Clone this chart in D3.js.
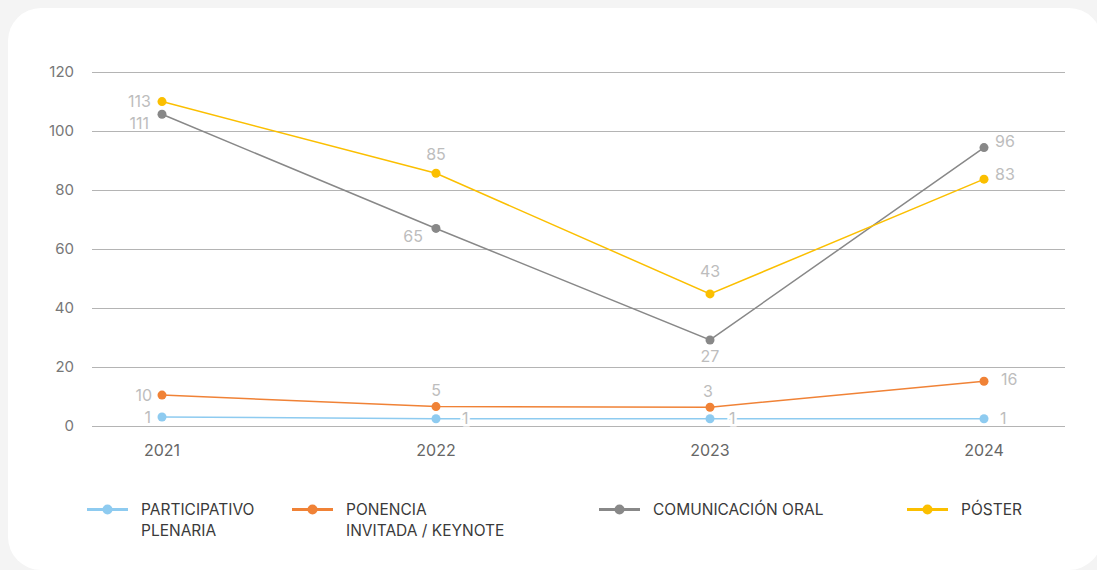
<!DOCTYPE html>
<html>
<head>
<meta charset="utf-8">
<script src="https://cdn.jsdelivr.net/npm/d3@7"></script>
<style>
  body { margin: 0; background: #f4f4f4; font-family: Inter, "Open Sans", sans-serif; }
  svg { display: block; }
</style>
</head>
<body>
<div id="chart"></div>
<script>
// years on the x axis
var years = ["2021", "2022", "2023", "2024"];
var yTicks = [0, 20, 40, 60, 80, 100, 120];

var participativo = [2.9, 2.3, 2.3, 2.3];
var participativoLbl = ["1", "1", "1", "1"];
var ponencia = [10.3, 6.4, 6.2, 15];
var ponenciaLbl = ["10", "5", "3", "16"];
var comunicacion = [105.5, 66.8, 29, 94.2];
var comunicacionLbl = ["111", "65", "27", "96"];
var poster = [109.8, 85.5, 44.6, 83.5];
var posterLbl = ["113", "85", "43", "83"];

var seriesNames = [["PARTICIPATIVO", "PLENARIA"], ["PONENCIA", "INVITADA / KEYNOTE"], ["COMUNICACIÓN ORAL"], ["PÓSTER"]];
var colors = ["#8ecbf0", "#f08236", "#888888", "#fbbf00"];

var W = 1097, H = 570;
var svg = d3.select("#chart").append("svg").attr("width", W).attr("height", H);

// white card
svg.append("rect").attr("x", 8).attr("y", 8).attr("width", 1094).attr("height", 562)
  .attr("rx", 33).attr("fill", "#fff");

var y = d3.scaleLinear().domain([0, 120]).range([425.5, 71.5]);
var x = d3.scalePoint().domain(years).range([162, 984]);

var grid = svg.append("g");
grid.selectAll("line").data(yTicks).enter().append("line")
  .attr("x1", 92).attr("x2", 1065)
  .attr("y1", function (d) { return Math.round(y(d)) + 0.5; })
  .attr("y2", function (d) { return Math.round(y(d)) + 0.5; })
  .attr("stroke", "#b4b4b4").attr("stroke-width", 1);
grid.selectAll("text").data(yTicks).enter().append("text")
  .attr("x", 74).attr("y", function (d) { return y(d); })
  .attr("dy", "0.36em").attr("text-anchor", "end")
  .attr("font-size", 15).attr("fill", "#777").text(function (d) { return d; });

svg.append("g").selectAll("text").data(years).enter().append("text")
  .attr("x", function (d) { return x(d); }).attr("y", 450).attr("dy", "0.36em")
  .attr("text-anchor", "middle").attr("font-size", 16).attr("fill", "#666")
  .text(function (d) { return d; });

// label placement per point: [dx, dy, anchor]
var place = [
  [[-11, 0, "end"], [26, 0, "start"], [19, 0, "start"], [16, 0, "start"]],
  [[-10, 0, "end"], [0, -16, "middle"], [-2, -16, "middle"], [17, -2, "start"]],
  [[-13, 9, "end"], [-13, 8, "end"], [0, 16, "middle"], [11, -6, "start"]],
  [[-11, 0, "end"], [0, -19, "middle"], [0, -23, "middle"], [11, -5, "start"]]
];

var all = [participativo, ponencia, comunicacion, poster];
var labels = [participativoLbl, ponenciaLbl, comunicacionLbl, posterLbl];

var line = d3.line().x(function (d, i) { return x(years[i]); }).y(function (d) { return y(d); });

all.forEach(function (vals, s) {
  var g = svg.append("g");
  g.append("path").attr("d", line(vals)).attr("fill", "none")
    .attr("stroke", colors[s]).attr("stroke-width", 1.5);
  g.selectAll("circle").data(vals).enter().append("circle")
    .attr("cx", function (d, i) { return x(years[i]); })
    .attr("cy", function (d) { return y(d); })
    .attr("r", 4.5).attr("fill", colors[s]);
  g.selectAll("text").data(vals).enter().append("text")
    .attr("x", function (d, i) { return x(years[i]) + place[s][i][0]; })
    .attr("y", function (d, i) { return y(d) + place[s][i][1]; })
    .attr("dy", "0.36em").attr("text-anchor", function (d, i) { return place[s][i][2]; })
    .attr("font-size", 16).attr("fill", "#bdbdbd")
    .attr("paint-order", "stroke").attr("stroke", function (d, i) { return (s === 0 && (i === 1 || i === 2)) ? "#fff" : "none"; })
    .attr("stroke-width", 5)
    .text(function (d, i) { return labels[s][i]; });
});

// legend
var legX = [87, 292, 599, 907];
var leg = svg.append("g");
seriesNames.forEach(function (name, s) {
  var lx = legX[s], ly = 509.5;
  leg.append("line").attr("x1", lx).attr("x2", lx + 41).attr("y1", ly).attr("y2", ly)
    .attr("stroke", colors[s]).attr("stroke-width", 3);
  leg.append("circle").attr("cx", lx + 20.5).attr("cy", ly).attr("r", 5).attr("fill", colors[s]);
  var t = leg.append("text").attr("x", lx + 54).attr("y", ly).attr("font-size", 15.5)
    .attr("fill", "#3a3a3a");
  name.forEach(function (n, k) {
    t.append("tspan").attr("x", lx + 54).attr("y", ly + k * 21).attr("dy", "0.36em").text(n);
  });
});
</script>
</body>
</html>
